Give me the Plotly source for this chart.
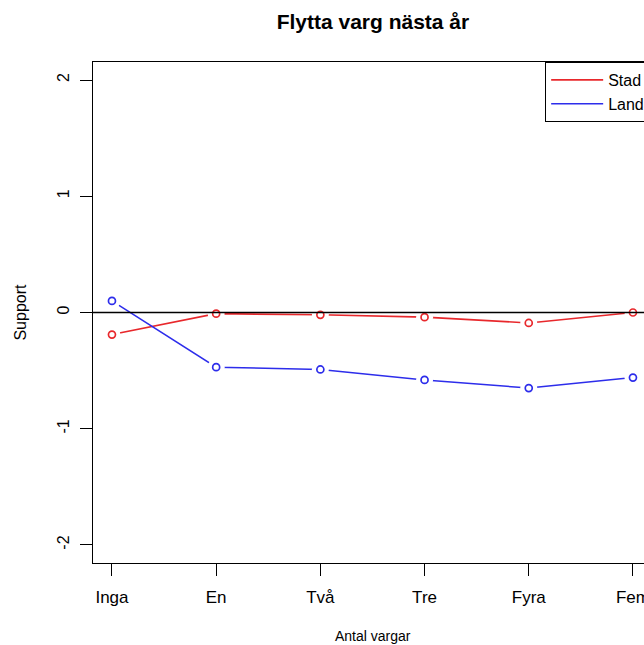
import plotly.graph_objects as go

categories = ["Inga", "En", "Två", "Tre", "Fyra", "Fem"]
stad = [-0.19, -0.01, -0.02, -0.04, -0.09, 0.00]
land = [0.10, -0.47, -0.49, -0.58, -0.65, -0.56]
y_ticks = [-2, -1, 0, 1, 2]

FONT = "Liberation Sans, Arial, sans-serif"
RED = "rgb(232,40,44)"
BLUE = "rgb(45,45,235)"

xs = list(range(len(categories)))

fig = go.Figure()
# connecting lines (R type="b")
fig.add_trace(go.Scatter(x=xs, y=stad, mode="lines", showlegend=False,
                         line=dict(color=RED, width=1.6), hoverinfo="skip"))
fig.add_trace(go.Scatter(x=xs, y=land, mode="lines", showlegend=False,
                         line=dict(color=BLUE, width=1.5), hoverinfo="skip"))
# white gaps around points
for ys in (stad, land):
    fig.add_trace(go.Scatter(x=xs, y=ys, mode="markers", showlegend=False,
                             marker=dict(symbol="circle", size=17, color="white",
                                         line=dict(width=0)), hoverinfo="skip"))
# open circles
fig.add_trace(go.Scatter(x=xs, y=stad, mode="markers", showlegend=False, name="Stad",
                         marker=dict(symbol="circle-open", size=7, color=RED,
                                     line=dict(color=RED, width=1.7))))
fig.add_trace(go.Scatter(x=xs, y=land, mode="markers", showlegend=False, name="Land",
                         marker=dict(symbol="circle-open", size=7, color=BLUE,
                                     line=dict(color=BLUE, width=1.7))))
# legend entries (lines only, like R legend)
fig.add_trace(go.Scatter(x=[None], y=[None], mode="lines", name="Stad",
                         line=dict(color=RED, width=1.6)))
fig.add_trace(go.Scatter(x=[None], y=[None], mode="lines", name="Land",
                         line=dict(color=BLUE, width=1.6)))

fig.add_shape(type="line", xref="paper", yref="y", x0=0, x1=1, y0=0, y1=0,
              line=dict(color="black", width=1.3), layer="above")

fig.update_layout(
    width=654, height=645,
    margin=dict(l=93, r=0, t=62, b=82, autoexpand=False),
    paper_bgcolor="white", plot_bgcolor="white",
    font=dict(family=FONT, color="black", size=16),
    showlegend=True,
    title=dict(text="<b>Flytta varg nästa år</b>", x=0.499, xref="paper",
               xanchor="center", y=0.966, yref="container", yanchor="middle",
               font=dict(family=FONT, size=21, color="black")),
    legend=dict(x=0.806, xanchor="left", y=1, yanchor="top",
                bordercolor="black", borderwidth=1, bgcolor="white",
                font=dict(family=FONT, size=16, color="black"),
                tracegroupgap=0, itemwidth=52),
    xaxis=dict(
        range=[-0.182, 5.202], tickmode="array", tickvals=xs, ticktext=categories,
        showgrid=False, zeroline=False, showline=True, mirror=True,
        linecolor="black", linewidth=1.3, ticks="outside", ticklen=12,
        tickcolor="black", tickwidth=1.2, tickfont=dict(size=17),
        ticklabelstandoff=6, ticklabeloverflow="allow",
    ),
    yaxis=dict(
        range=[-2.155, 2.155], tickmode="array", tickvals=y_ticks,
        ticktext=[str(v) for v in y_ticks],
        showgrid=False, zeroline=False, showline=True, mirror=True,
        linecolor="black", linewidth=1.3, ticks="outside", ticklen=12,
        tickcolor="black", tickwidth=1.2, tickangle=-90, tickfont=dict(size=16),
        ticklabelstandoff=4,
    ),
    annotations=[
        dict(text="Antal vargar", xref="paper", yref="paper", x=0.499, y=-0.1457,
             xanchor="center", yanchor="middle", showarrow=False,
             font=dict(family=FONT, size=14, color="black")),
        dict(text="Support", xref="paper", yref="paper", x=-0.130, y=0.5,
             xanchor="center", yanchor="middle", showarrow=False, textangle=-90,
             font=dict(family=FONT, size=16, color="black")),
    ],
)

fig.write_html(
    "out.html",
    config={"displayModeBar": False},
    post_script="document.body.style.margin='0';document.body.style.overflow='hidden';"
                "document.documentElement.style.overflow='hidden';",
)
